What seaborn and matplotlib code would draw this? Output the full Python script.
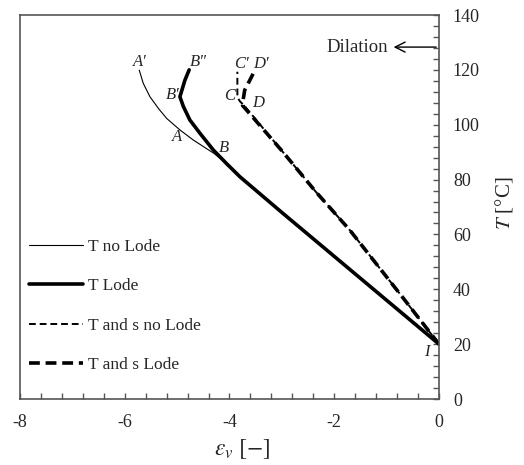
import numpy as np
import pandas as pd
import matplotlib
matplotlib.use("Agg")
import matplotlib.pyplot as plt
import seaborn as sns

sns.set_theme(style="white")
plt.rcParams['font.family'] = ['Liberation Serif', 'DejaVu Serif']
plt.rcParams['mathtext.fontset'] = 'stix'

# ---- data ----
t_nolode_x = [0.0, -1.0, -2.0, -3.0, -3.8, -4.06, -4.3, -4.44, -4.69, -4.947, -5.20, -5.36, -5.519, -5.647, -5.723]
t_nolode_y = [20.0, 36.0, 52.0, 68.0, 81.0, 85.9, 89.6, 91.3, 94.4, 98.1, 102.3, 106.0, 110.2, 115.1, 119.9]

t_lode_x = [0.0, -1.0, -2.0, -3.0, -3.8, -4.06, -4.31, -4.565, -4.756, -4.88, -4.947, -4.85, -4.77]
t_lode_y = [20.0, 36.0, 52.0, 68.0, 81.0, 85.9, 90.8, 96.9, 101.7, 106.6, 110.2, 116.3, 120.0]

ts_nolode_x = [0.0, -0.7, -1.7, -2.35, -3.0, -3.72, -3.8, -3.85, -3.85, -3.85]
ts_nolode_y = [20.0, 37.2, 61.5, 75.5, 90.5, 107.0, 108.5, 110.0, 114.0, 119.3]

ts_lode_x = [0.0, -0.7, -1.7, -2.35, -3.0, -3.75, -3.74, -3.71, -3.61, -3.53]
ts_lode_y = [20.0, 37.2, 61.5, 75.5, 90.5, 107.0, 109.0, 112.6, 116.3, 119.3]

labels = ["T no Lode", "T Lode", "T and s no Lode", "T and s Lode"]

point_labels = ["A\u2032", "B\u2033", "B\u2032", "A", "B", "C\u2032", "D\u2032", "C", "D", "I"]
point_x = [-5.71, -4.60, -5.08, -5.00, -4.10, -3.78, -3.40, -4.00, -3.45, -0.23]
point_y = [123.0, 123.0, 110.8, 95.4, 91.4, 122.0, 122.0, 110.5, 107.8, 17.2]

fig = plt.figure(figsize=(5.24, 4.65), dpi=100)
ax = fig.add_axes([20/524, 66/465, 419/524, 384/465])

series = [
    (t_nolode_x, t_nolode_y, dict(lw=0.8, ls='-')),
    (t_lode_x, t_lode_y, dict(lw=2.6, ls='-')),
    (ts_nolode_x, ts_nolode_y, dict(lw=1.4, ls=(0, (3.5, 2)))),
    (ts_lode_x, ts_lode_y, dict(lw=2.6, ls=(0, (3, 1.6)))),
]
for (xs, ys, st), lab in zip(series, labels):
    sns.lineplot(x=xs, y=ys, sort=False, estimator=None, ax=ax, color='black',
                 label=lab, linewidth=st['lw'], linestyle=st['ls'])

ax.set_xlim(-8, 0)
ax.set_ylim(0, 140)
ax.set_xticks(np.arange(-8, 0.1, 2))
ax.set_xticks(np.arange(-8, 0.01, 0.4), minor=True)
ax.set_yticks(np.arange(0, 141, 20))
ax.set_yticks(np.arange(0, 141, 4), minor=True)
ax.set_xticklabels(["-8", "-6", "-4", "-2", "0"])
ax.yaxis.tick_right()
ax.yaxis.set_label_position('right')
ax.tick_params(which='both', direction='in', length=4, width=1, color='#555555',
               labelsize=13, bottom=True, right=True, left=False, top=False)
ax.tick_params(axis='x', pad=11)
ax.tick_params(axis='y', pad=10)
for s in ax.spines.values():
    s.set_color('#555555')
    s.set_linewidth(1.2)

ax.set_xlabel(r"$\varepsilon_v\ [-]$", fontsize=17)
ax.xaxis.set_label_coords(0.53, -0.10)
ax.set_ylabel(r"$T$ [°C]", fontsize=15)
ax.yaxis.set_label_coords(1.13, 0.51)

for lab, px, py in zip(point_labels, point_x, point_y):
    ax.text(px, py, lab, fontsize=12, fontstyle='italic', ha='center', va='center')

ax.annotate("", xy=(-0.92, 128.3), xytext=(0, 128.3),
            arrowprops=dict(arrowstyle='->,head_length=0.6,head_width=0.3', color='black', lw=1.0))
ax.text(-0.98, 128.3, "Dilation", fontsize=13.5, ha='right', va='center')

leg = ax.legend(loc='lower left', bbox_to_anchor=(0.005, 0.05), frameon=False,
                fontsize=12.5, handlelength=3.1, handletextpad=0.3, labelspacing=1.33,
                borderaxespad=0)

fig.savefig("out.png", dpi=100)
